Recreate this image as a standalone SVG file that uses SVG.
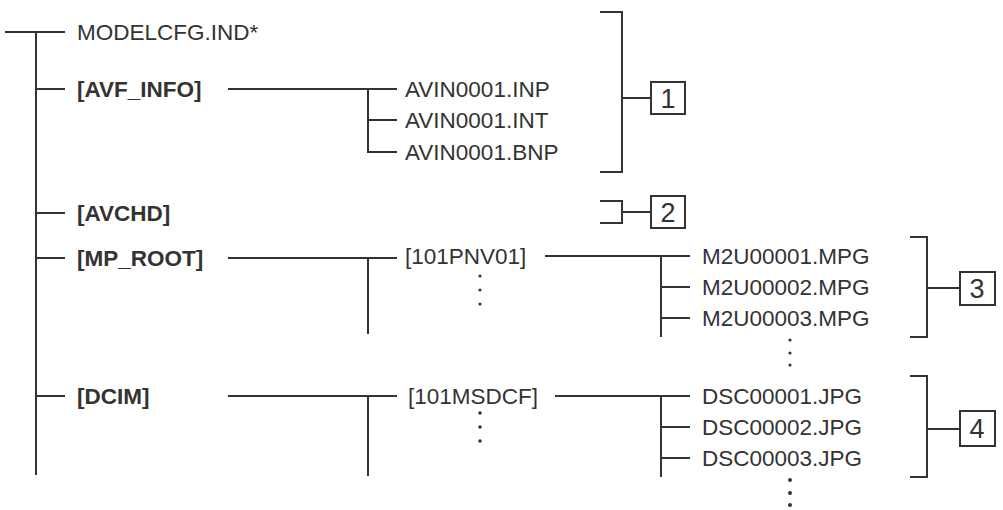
<svg xmlns="http://www.w3.org/2000/svg" width="1003" height="510" viewBox="0 0 1003 510">
<style>
text{font-family:"Liberation Sans",Arial,sans-serif;font-size:22.5px;fill:#333;dominant-baseline:central}
.b{font-weight:bold}
.n{font-size:27px;text-anchor:middle}
line,path,rect{stroke:#333;stroke-width:2;fill:none}
circle{fill:#333}
</style>
<rect width="1003" height="510" style="fill:#fff;stroke:none"/>
<g id="connectors">
<line x1="5" y1="32" x2="65" y2="32"/>
<line x1="36" y1="32" x2="36" y2="475"/>
<line x1="36" y1="89" x2="65" y2="89"/>
<line x1="36" y1="213" x2="65" y2="213"/>
<line x1="36" y1="258" x2="65" y2="258"/>
<line x1="36" y1="396" x2="65" y2="396"/>
<line x1="228" y1="89" x2="397" y2="89"/>
<path d="M368 89V152H397M368 120H397"/>
<line x1="228" y1="258" x2="397" y2="258"/>
<line x1="368" y1="258" x2="368" y2="334"/>
<line x1="228" y1="396" x2="397" y2="396"/>
<line x1="368" y1="396" x2="368" y2="476"/>
<line x1="545" y1="256" x2="690" y2="256"/>
<path d="M661 256V337M661 287H690M661 318H690"/>
<line x1="555" y1="396" x2="690" y2="396"/>
<path d="M661 396V477M661 427H690M661 458H690"/>
<path d="M600 12H622V172H600M622 98H651"/>
<path d="M600 201H622V223H600M622 212H651"/>
<path d="M910 237H927V337H910M927 288H960"/>
<path d="M910 376H927V477H910M927 429H960"/>
<circle cx="480" cy="276" r="1.6"/><circle cx="480" cy="290" r="1.6"/><circle cx="480" cy="304" r="1.6"/>
<circle cx="480" cy="413" r="1.8"/><circle cx="480" cy="427" r="1.8"/><circle cx="480" cy="441" r="1.8"/>
<circle cx="790" cy="340" r="1.6"/><circle cx="790" cy="353" r="1.6"/><circle cx="790" cy="365" r="1.6"/>
<circle cx="790" cy="480" r="2"/><circle cx="790" cy="493" r="2"/><circle cx="790" cy="505" r="2"/>
</g>
<g id="modelcfg"><text x="77" y="32">MODELCFG.IND*</text></g>
<g id="avf_info"><text class="b" x="77" y="89">[AVF_INFO]</text></g>
<g id="avin_inp"><text x="405" y="89">AVIN0001.INP</text></g>
<g id="avin_int"><text x="405" y="120">AVIN0001.INT</text></g>
<g id="avin_bnp"><text x="405" y="152">AVIN0001.BNP</text></g>
<g id="avchd"><text class="b" x="77" y="213">[AVCHD]</text></g>
<g id="mp_root"><text class="b" x="77" y="258">[MP_ROOT]</text></g>
<g id="pnv"><text x="405" y="256">[101PNV01]</text></g>
<g id="m1"><text x="702" y="256">M2U00001.MPG</text></g>
<g id="m2"><text x="702" y="287">M2U00002.MPG</text></g>
<g id="m3"><text x="702" y="318">M2U00003.MPG</text></g>
<g id="dcim"><text class="b" x="77" y="396">[DCIM]</text></g>
<g id="msdcf"><text x="408" y="396">[101MSDCF]</text></g>
<g id="d1"><text x="702" y="396">DSC00001.JPG</text></g>
<g id="d2"><text x="702" y="427">DSC00002.JPG</text></g>
<g id="d3"><text x="702" y="458">DSC00003.JPG</text></g>
<g id="box1"><rect x="651" y="82" width="34" height="32"/><text class="n" x="668" y="99">1</text></g>
<g id="box2"><rect x="651" y="196" width="34" height="32"/><text class="n" x="668" y="213">2</text></g>
<g id="box3"><rect x="960" y="272" width="35" height="33"/><text class="n" x="977" y="289">3</text></g>
<g id="box4"><rect x="960" y="411" width="35" height="35"/><text class="n" x="977" y="429">4</text></g>
</svg>
